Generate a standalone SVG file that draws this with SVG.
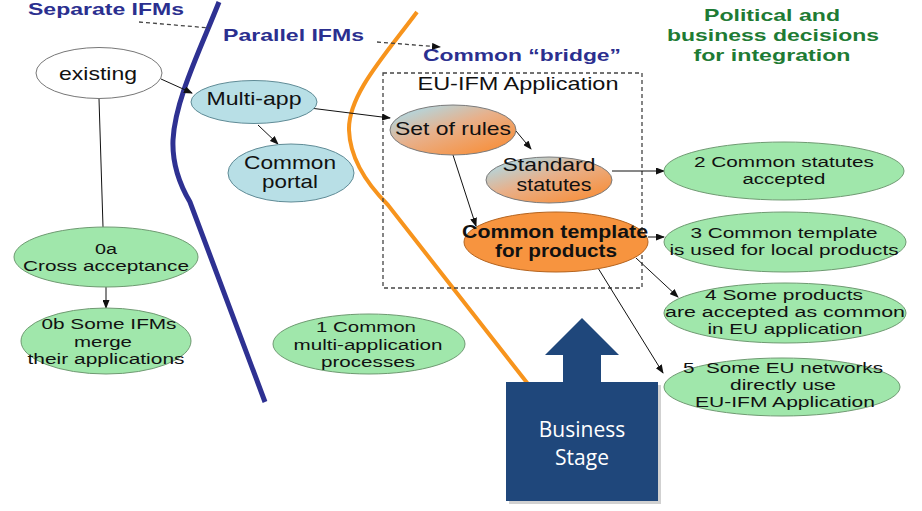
<svg xmlns="http://www.w3.org/2000/svg" width="922" height="511" viewBox="0 0 922 511">
<style>
text{font-family:"Liberation Sans",Arial,sans-serif;text-anchor:middle;fill:#111}
.t{font-size:19px}
.s{font-size:15.5px}
.b{font-weight:bold}
.title{font-size:17px;font-weight:bold;fill:#2b2f8f;text-anchor:start}
.green{font-size:17px;font-weight:bold;fill:#1e7b34}
.gn{fill:#a0e7ab;stroke:#6f9a72;stroke-width:1}
.bl{fill:#b8dfe6;stroke:#5f8b96;stroke-width:1}
.con{stroke:#111;stroke-width:1;fill:none}
.arr{marker-end:url(#ah)}
.dash{stroke:#444;stroke-width:1.3;fill:none;stroke-dasharray:4 3}
</style>
<defs>
<marker id="ah" markerWidth="9" markerHeight="7" refX="8" refY="3.5" orient="auto" markerUnits="userSpaceOnUse">
<path d="M0,0 L9,3.5 L0,7 z" fill="#111"/>
</marker>
<linearGradient id="gr" x1="0.15" y1="0.1" x2="0.85" y2="0.9">
<stop offset="0" stop-color="#b3d6de"/>
<stop offset="0.45" stop-color="#e8b08a"/>
<stop offset="1" stop-color="#f7913f"/>
</linearGradient>
</defs>
<rect width="922" height="511" fill="#fff"/>

<!-- stage boundaries -->
<g id="boundaries">
<path d="M219,2 C200,50 175,100 173,140 C172,165 180,185 190,202 L265,402" fill="none" stroke="#2e3192" stroke-width="5"/>
<path d="M417,12 C385,55 348,95 349,130 C350,160 368,185 388,205 L528,384" fill="none" stroke="#f7941d" stroke-width="4"/>
</g>

<!-- titles -->
<g id="titles">
<text class="title" x="28" y="15" textLength="156" lengthAdjust="spacingAndGlyphs">Separate IFMs</text>
<text class="title" x="223" y="41" textLength="141" lengthAdjust="spacingAndGlyphs">Parallel IFMs</text>
<text class="title" x="423" y="61" textLength="198" lengthAdjust="spacingAndGlyphs">Common “bridge”</text>
<text class="green" x="772" y="21" textLength="136" lengthAdjust="spacingAndGlyphs">Political and</text>
<text class="green" x="773" y="41" textLength="212" lengthAdjust="spacingAndGlyphs">business decisions</text>
<text class="green" x="772" y="61" textLength="157" lengthAdjust="spacingAndGlyphs">for integration</text>
</g>

<!-- EU-IFM application box -->
<g id="eu-ifm-box">
<rect x="383" y="73" width="259" height="215" class="dash"/>
<text class="t" x="518" y="90" textLength="201" lengthAdjust="spacingAndGlyphs">EU-IFM Application</text>
</g>

<!-- connectors -->
<g id="connectors">
<path class="dash" d="M139,22 L210,28"/>
<path class="dash arr" d="M377,42 L440,47"/>
<path class="con" d="M99,99 L103,227"/>
<path class="con arr" d="M106,287 L106,308"/>
<path class="con arr" d="M161,79 L192,93"/>
<path class="con arr" d="M258,125 L278,144"/>
<path class="con arr" d="M310,108 L390,118"/>
<path class="con arr" d="M516,131 L531,149"/>
<path class="con arr" d="M453,155 L476,226"/>
<path class="con arr" d="M612,171 L664,171"/>
<path class="con arr" d="M648,237 L664,237"/>
<path class="con arr" d="M636,258 L678,297"/>
<path class="con arr" d="M598,268 L663,373"/>
</g>

<g id="existing">
<ellipse cx="99" cy="73" rx="63" ry="25.5" fill="#fff" stroke="#777"/>
<text class="t" x="98" y="80" textLength="78" lengthAdjust="spacingAndGlyphs">existing</text>
</g>
<g id="multi-app">
<ellipse cx="254" cy="102" rx="63" ry="21.5" class="bl"/>
<text class="t" x="254" y="105" textLength="95" lengthAdjust="spacingAndGlyphs">Multi-app</text>
</g>
<g id="common-portal">
<ellipse cx="291" cy="173" rx="63" ry="29" class="bl"/>
<text class="t" x="290" y="169" textLength="92" lengthAdjust="spacingAndGlyphs">Common</text>
<text class="t" x="290" y="188" textLength="56" lengthAdjust="spacingAndGlyphs">portal</text>
</g>
<g id="set-of-rules">
<ellipse cx="453" cy="130" rx="63" ry="25" fill="url(#gr)" stroke="#7a7a7a"/>
<text class="t" x="453" y="135" textLength="116" lengthAdjust="spacingAndGlyphs">Set of rules</text>
</g>
<g id="standard-statutes">
<ellipse cx="549" cy="180" rx="63" ry="23" fill="url(#gr)" stroke="#7a7a7a"/>
<text class="t" x="549" y="171" textLength="93" lengthAdjust="spacingAndGlyphs">Standard</text>
<text class="t" x="554" y="191" textLength="75" lengthAdjust="spacingAndGlyphs">statutes</text>
</g>
<g id="common-template">
<ellipse cx="556" cy="242" rx="92" ry="30" fill="#f7943f" stroke="#b5641f"/>
<text class="t b" x="555" y="238" textLength="186" lengthAdjust="spacingAndGlyphs">Common template</text>
<text class="t b" x="556" y="257" textLength="122" lengthAdjust="spacingAndGlyphs">for products</text>
</g>
<g id="n2">
<ellipse cx="784" cy="171" rx="120" ry="29" class="gn"/>
<text class="s" x="784" y="167" textLength="180" lengthAdjust="spacingAndGlyphs">2 Common statutes</text>
<text class="s" x="784" y="184" textLength="83" lengthAdjust="spacingAndGlyphs">accepted</text>
</g>
<g id="n3">
<ellipse cx="785" cy="242" rx="121" ry="30" class="gn"/>
<text class="s" x="784" y="238" textLength="187" lengthAdjust="spacingAndGlyphs">3 Common template</text>
<text class="s" x="784" y="255" textLength="229" lengthAdjust="spacingAndGlyphs">is used for local products</text>
</g>
<g id="n4">
<ellipse cx="785" cy="313" rx="121" ry="30" class="gn"/>
<text class="s" x="784" y="300" textLength="158" lengthAdjust="spacingAndGlyphs">4 Some products</text>
<text class="s" x="785" y="317" textLength="240" lengthAdjust="spacingAndGlyphs">are accepted as common</text>
<text class="s" x="785" y="334" textLength="155" lengthAdjust="spacingAndGlyphs">in EU application</text>
</g>
<g id="n5">
<ellipse cx="782" cy="387" rx="118" ry="29" class="gn"/>
<text class="s" x="783" y="373" textLength="200" lengthAdjust="spacingAndGlyphs" xml:space="preserve">5  Some EU networks</text>
<text class="s" x="783" y="390" textLength="106" lengthAdjust="spacingAndGlyphs">directly use</text>
<text class="s" x="785" y="407" textLength="180" lengthAdjust="spacingAndGlyphs">EU-IFM Application</text>
</g>
<g id="n0a">
<ellipse cx="106" cy="257" rx="92" ry="30" class="gn"/>
<text class="s" x="106" y="254" textLength="22" lengthAdjust="spacingAndGlyphs">0a</text>
<text class="s" x="106" y="271" textLength="166" lengthAdjust="spacingAndGlyphs">Cross acceptance</text>
</g>
<g id="n0b">
<ellipse cx="106" cy="341" rx="85" ry="33" class="gn"/>
<text class="s" x="109" y="329" textLength="135" lengthAdjust="spacingAndGlyphs">0b Some IFMs</text>
<text class="s" x="103" y="347" textLength="58" lengthAdjust="spacingAndGlyphs">merge</text>
<text class="s" x="106" y="364" textLength="157" lengthAdjust="spacingAndGlyphs">their applications</text>
</g>
<g id="n1">
<ellipse cx="369" cy="344" rx="96" ry="30" class="gn"/>
<text class="s" x="366" y="332" textLength="100" lengthAdjust="spacingAndGlyphs">1 Common</text>
<text class="s" x="368" y="350" textLength="149" lengthAdjust="spacingAndGlyphs">multi-application</text>
<text class="s" x="368" y="367" textLength="94" lengthAdjust="spacingAndGlyphs">processes</text>
</g>

<g id="business-stage">
<path d="M509,385 L661,385 L661,504 L509,504 z" fill="#000" opacity="0.18"/>
<path d="M506,382 L563,382 L563,355 L545,355 L582,318 L619,355 L601,355 L601,382 L658,382 L658,501 L506,501 z" fill="#1f477b"/>
<text x="582" y="437" style="font-family:'Open Sans','Noto Sans',sans-serif;font-size:21px;fill:#fff">Business</text>
<text x="582" y="465" style="font-family:'Open Sans','Noto Sans',sans-serif;font-size:21px;fill:#fff">Stage</text>
</g>
</svg>
